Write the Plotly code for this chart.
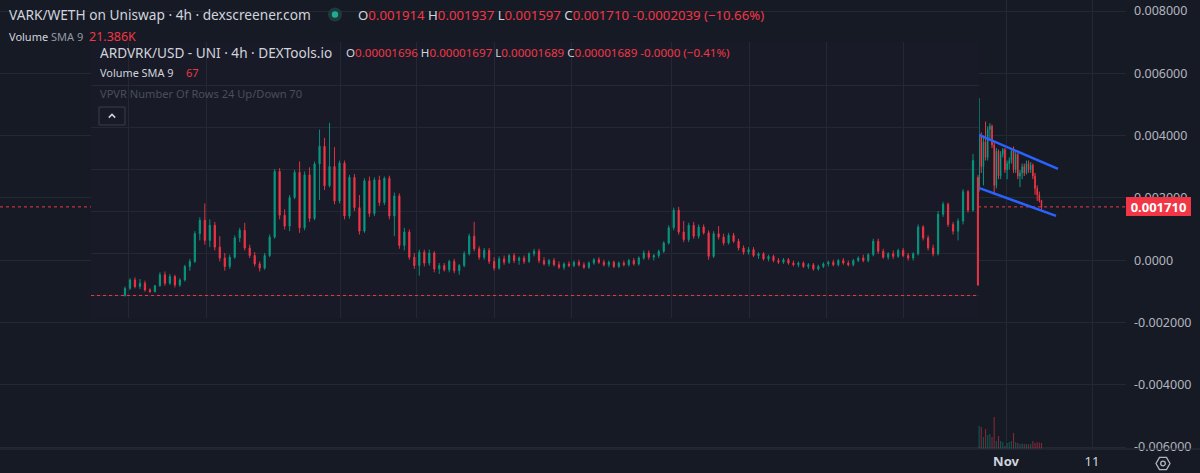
import numpy as np
import pandas as pd
import plotly.graph_objects as go

# ======================= DATA =======================
# Inner overlay chart: ARDVRK/USD (DEXTools, 4h), prices in micro-USD (1e-6 USD)
ard_open = [16.9,18.6,20.6,19.0,19.8,18.2,17.8,19.2,21.8,19.8,
            21.4,19.4,20.6,23.8,25.0,31.6,34.8,30.0,33.6,28.4,
            25.8,23.8,26.0,30.6,32.4,28.2,26.4,24.4,23.4,26.4,
            30.8,46.4,36.0,33.4,40.2,46.2,33.0,45.6,35.2,48.2,
            52.4,43.0,47.6,39.4,48.4,35.8,45.0,37.8,32.2,44.2,
            36.4,44.4,39.0,44.8,35.8,40.6,28.8,32.0,26.0,24.0,
            27.2,24.6,27.0,23.2,24.0,23.0,25.0,22.8,24.0,26.8,
            31.0,28.0,26.0,27.6,25.0,23.4,25.6,24.8,26.4,25.2,
            25.8,25.0,26.8,27.4,25.2,24.4,25.2,24.2,23.6,24.4,
            24.0,24.8,24.2,23.6,24.6,25.4,24.8,24.2,24.8,23.8,
            24.6,24.2,25.2,24.4,25.8,27.0,26.0,26.4,27.4,29.4,
            33.0,37.2,32.0,30.2,33.6,31.0,33.2,31.8,26.2,31.6,
            30.8,29.4,31.2,29.8,28.2,27.2,27.8,26.4,26.8,25.6,
            26.2,25.2,24.8,25.4,24.6,24.2,24.6,23.8,24.2,23.2,
            23.8,24.4,24.8,24.2,25.2,24.6,24.2,25.2,25.8,25.2,
            26.6,29.8,27.4,26.0,26.8,26.2,27.6,26.4,25.8,26.8,
            33.2,30.6,28.2,26.8,36.2,38.6,33.8,32.2,34.6,41.6,
            37.2,45.0]
ard_high = [19.0,21.0,21.2,20.8,20.4,18.6,19.4,22.4,22.6,22.0,
            21.8,21.0,24.2,25.6,32.2,35.5,38.8,35.0,34.4,31.0,
            27.0,26.6,31.2,33.0,34.2,29.0,27.2,25.0,27.0,31.4,
            47.0,47.2,37.4,40.8,46.8,48.8,46.4,47.4,48.8,56.4,
            54.4,58.0,52.2,49.0,49.0,45.6,45.8,40.8,44.8,45.2,
            45.0,45.4,45.2,45.4,41.4,41.2,33.0,32.6,27.0,27.8,
            27.8,27.8,27.4,24.6,24.6,25.4,25.6,24.4,27.4,31.6,
            34.4,28.6,28.2,28.2,26.0,26.2,26.4,26.8,27.0,26.2,
            26.4,27.2,28.0,28.0,26.0,25.6,25.8,25.0,24.8,25.0,
            25.2,25.4,24.8,25.0,25.8,26.0,25.4,25.2,25.2,25.0,
            25.2,25.6,25.8,26.2,27.6,27.6,26.8,27.8,29.8,33.6,
            37.8,38.0,34.6,34.2,34.4,33.8,33.8,32.4,32.2,33.4,
            31.6,31.8,31.8,30.4,28.8,28.4,28.4,27.2,27.2,26.6,
            26.6,25.8,25.8,25.8,25.2,25.0,25.0,24.6,24.6,24.2,
            24.8,25.2,25.4,25.6,25.8,25.2,25.6,26.2,26.6,27.0,
            30.4,30.4,28.0,27.2,27.6,28.0,28.2,27.0,27.2,33.8,
            33.6,31.2,29.0,37.0,39.2,39.0,34.4,35.2,42.2,42.0,
            50.6,45.6]
ard_low = [16.6,18.2,18.6,18.4,17.8,17.5,17.6,19.0,19.2,19.4,
           18.8,18.9,20.2,22.8,24.6,30.0,29.0,28.4,27.6,25.0,
           22.8,23.2,25.6,29.6,27.6,25.8,23.8,22.6,23.0,26.0,
           30.4,35.0,32.6,32.2,39.8,31.8,32.4,34.4,34.8,39.6,
           42.0,42.6,38.6,38.8,35.0,35.2,37.0,31.4,31.8,35.6,
           35.8,38.2,38.4,35.0,31.0,28.0,27.6,25.4,23.2,21.6,
           23.8,24.0,22.4,22.0,22.6,22.4,22.2,21.8,23.6,26.4,
           27.4,25.4,25.4,24.4,22.8,23.0,24.2,24.4,24.6,24.2,
           24.4,24.6,26.2,24.6,24.0,23.8,23.8,23.2,23.0,23.6,
           23.6,23.8,23.2,23.2,24.2,24.4,23.8,23.6,23.4,23.4,
           23.8,23.8,24.0,24.0,25.4,25.4,25.2,25.8,27.0,29.0,
           32.4,31.4,29.6,29.6,30.4,30.4,31.4,25.4,25.8,30.2,
           28.8,29.0,29.4,27.6,26.6,26.6,26.0,25.6,25.2,25.0,
           24.8,24.4,24.4,24.2,23.8,23.6,23.4,23.2,22.8,22.8,
           23.4,23.8,23.8,23.8,24.2,23.8,23.8,24.8,24.8,24.8,
           26.2,26.8,25.6,25.4,25.6,25.8,26.0,25.2,25.2,26.4,
           30.0,27.6,26.2,26.4,35.6,33.2,31.4,30.0,33.8,36.6,
           36.8,19.2]
ard_close = [18.6,20.6,19.0,19.8,18.2,17.8,19.2,21.8,19.8,21.4,
             19.4,20.6,23.8,25.0,31.6,34.8,30.0,33.6,28.4,25.8,
             23.8,26.0,30.6,32.4,28.2,26.4,24.4,23.4,26.4,30.8,
             46.4,36.0,33.4,40.2,46.2,33.0,45.6,35.2,48.2,52.4,
             43.0,47.6,39.4,48.4,35.8,45.0,37.8,32.2,44.2,36.4,
             44.4,39.0,44.8,35.8,40.6,28.8,32.0,26.0,24.0,27.2,
             24.6,27.0,23.2,24.0,23.0,25.0,22.8,24.0,26.8,31.0,
             28.0,26.0,27.6,25.0,23.4,25.6,24.8,26.4,25.2,25.8,
             25.0,26.8,27.4,25.2,24.4,25.2,24.2,23.6,24.4,24.0,
             24.8,24.2,23.6,24.6,25.4,24.8,24.2,24.8,23.8,24.6,
             24.2,25.2,24.4,25.8,27.0,26.0,26.4,27.4,29.4,33.0,
             37.2,32.0,30.2,33.6,31.0,33.2,31.8,26.2,31.6,30.8,
             29.4,31.2,29.8,28.2,27.2,27.8,26.4,26.8,25.6,26.2,
             25.2,24.8,25.4,24.6,24.2,24.6,23.8,24.2,23.2,23.8,
             24.4,24.8,24.2,25.2,24.6,24.2,25.2,25.8,25.2,26.6,
             29.8,27.4,26.0,26.8,26.2,27.6,26.4,25.8,26.8,33.2,
             30.6,28.2,26.8,36.2,38.6,33.8,32.2,34.6,41.6,37.2,
             49.0,19.4]
ard_last_close = 16.89                      # 0.00001689 USD
ard_grid_bars = [0.8, 16.4, 43.1, 58.5, 74.1, 89.6, 109.6, 125.1, 140.7, 156.1]

# Outer chart: VARK/WETH (dexscreener), prices in 1e-3 WETH, volume in K
vark_start = "2023-10-28 21:00"
vark_open_e3 = [2.3,4.0,3.0,3.8,3.3,4.2,4.3,3.7,2.4,3.5,
                2.7,3.4,3.55,2.9,3.1,3.2,3.5,2.9,3.4,2.7,
                2.8,3.0,2.8,3.1,2.9,3.05,2.7,2.3,2.1,1.914]
vark_high_e3 = [5.2,4.1,4.0,4.45,4.3,4.4,4.35,3.8,3.6,3.55,
                3.5,3.6,3.6,3.2,3.3,3.6,3.65,3.5,3.45,2.9,
                3.1,3.1,3.2,3.2,3.15,3.1,2.8,2.4,2.2,1.937]
vark_low_e3 = [2.2,2.8,2.4,3.2,3.2,3.9,3.6,2.1,2.3,2.6,
               2.6,3.3,2.8,2.6,2.9,3.1,2.8,2.8,2.6,2.35,
               2.6,2.7,2.75,2.8,2.8,2.6,2.1,1.9,1.85,1.597]
vark_close_e3 = [4.0,3.0,3.8,3.3,4.2,4.3,3.7,2.4,3.5,2.7,
                 3.4,3.55,2.9,3.1,3.2,3.5,2.9,3.4,2.7,2.8,
                 3.0,2.8,3.1,2.9,3.05,2.7,2.3,2.1,1.914,1.710]
vark_volume_k = [230,220,120,200,140,150,120,320,80,130,
                 80,70,30,60,70,80,160,70,60,50,
                 55,50,50,45,50,80,60,70,65,60]
vark_last = 0.001710

channel_upper_t = ["2023-10-28 20:00", "2023-11-07 01:00"]
channel_upper_p = [0.00402, 0.00293]
channel_lower_t = ["2023-10-28 20:00", "2023-11-06 19:30"]
channel_lower_p = [0.00232, 0.00142]

y_ticks = [0.008, 0.006, 0.004, 0.002, 0.0, -0.002, -0.004, -0.006]
y_tick_text = ["0.008000", "0.006000", "0.004000", "0.002000", "0.0000",
               "-0.002000", "-0.004000", "-0.006000"]
x_tick_dates = ["2023-11-01", "2023-11-11"]
x_tick_text = ["<b>Nov</b>", "11"]

# ======================= STYLE / LAYOUT =======================
W, H = 1200, 473
ML, MR, MT, MB = 0, 74, 0, 24
PW, PH = W - ML - MR, H - MT - MB


def px(x):
    return (x - ML) / PW


def py(y):
    return (H - MB - y) / PH


BG = "#161a25"
PANEL = "#181b27"
GRID = "#242833"
TXT = "#d1d4dc"
RED = "#f23645"
GREEN = "#089981"
FONT = "Noto Sans"

vark_t = pd.date_range(vark_start, periods=len(vark_open_e3), freq="6h")
vo = np.array(vark_open_e3) * 1e-3
vh = np.array(vark_high_e3) * 1e-3
vl = np.array(vark_low_e3) * 1e-3
vc = np.array(vark_close_e3) * 1e-3
vol_colors = ["rgba(8,153,129,0.5)" if c >= o else "rgba(242,54,69,0.5)"
              for o, c in zip(vark_open_e3, vark_close_e3)]

fig = go.Figure()
fig.add_trace(go.Bar(x=vark_t, y=vark_volume_k, marker_color=vol_colors,
                     marker_line_width=0, xaxis="x", yaxis="y3", hoverinfo="skip"))
fig.add_trace(go.Candlestick(
    x=vark_t, open=vo, high=vh, low=vl, close=vc, xaxis="x", yaxis="y",
    increasing=dict(line=dict(color=GREEN, width=1), fillcolor=GREEN),
    decreasing=dict(line=dict(color=RED, width=1), fillcolor=RED),
    whiskerwidth=0, hoverinfo="skip"))
for tt, pp in [(channel_upper_t, channel_upper_p), (channel_lower_t, channel_lower_p)]:
    fig.add_trace(go.Scatter(x=pd.to_datetime(tt), y=pp, mode="lines",
                             line=dict(color="#2962ff", width=2.5),
                             xaxis="x", yaxis="y", hoverinfo="skip"))

bars = list(range(len(ard_open)))
fig.add_trace(go.Candlestick(
    x=bars, open=ard_open, high=ard_high, low=ard_low, close=ard_close,
    xaxis="x2", yaxis="y2",
    increasing=dict(line=dict(color=GREEN, width=0.9), fillcolor=GREEN),
    decreasing=dict(line=dict(color=RED, width=0.9), fillcolor=RED),
    whiskerwidth=0, hoverinfo="skip"))

# axis ranges (pixel calibration of the screenshot)
nov1 = pd.Timestamp("2023-11-01")
ppd = 8.6
x_range = [nov1 - pd.Timedelta(days=1006 / ppd), nov1 + pd.Timedelta(days=(PW - 1006) / ppd)]
y_per_px = 0.014 / 436.0
y_range = [-0.006 - 2 * y_per_px, 0.008 + 11 * y_per_px]

bar_px = (978 - 125) / (len(ard_open) - 1)
x2_range = [(91 - 125) / bar_px, (979 - 125) / bar_px]
u_px = 4.2
y2_range = [17 - (318 - 295) / u_px, 17 + (295 - 42) / u_px]

fig.update_layout(
    width=W, height=H, autosize=False,
    margin=dict(l=ML, r=MR, t=MT, b=MB, pad=0),
    paper_bgcolor=BG, plot_bgcolor=BG,
    showlegend=False, hovermode=False,
    bargap=0.5, boxgap=0.65, boxgroupgap=0.3,
    font=dict(family=FONT, color=TXT),
    xaxis=dict(domain=[0, 1], type="date", range=x_range, tickvals=pd.to_datetime(x_tick_dates),
               ticktext=x_tick_text, showgrid=True, gridcolor=GRID, gridwidth=1,
               zeroline=False, showline=False, ticks="", ticklabelstandoff=3,
               tickfont=dict(size=13, color=TXT),
               rangeslider=dict(visible=False), anchor="y", fixedrange=True),
    yaxis=dict(domain=[0, 1], side="right", range=y_range, tickvals=y_ticks, ticktext=y_tick_text,
               showgrid=True, gridcolor=GRID, gridwidth=1, zeroline=False, showline=False,
               ticks="", ticklabelstandoff=7, tickfont=dict(size=12.5, color="#b2b5be"),
               anchor="x", fixedrange=True),
    yaxis3=dict(overlaying="y", range=[0, PH * 10], visible=False, anchor="x"),
    xaxis2=dict(domain=[px(91), px(979)], range=x2_range, tickvals=ard_grid_bars,
                showticklabels=False, showgrid=True, gridcolor=GRID, gridwidth=1,
                zeroline=False, showline=False, ticks="", anchor="y2",
                rangeslider=dict(visible=False), fixedrange=True),
    yaxis2=dict(domain=[py(318), py(42)], range=y2_range, tick0=17, dtick=10,
                showticklabels=False, showgrid=True, gridcolor=GRID, gridwidth=1,
                zeroline=False, showline=False, ticks="", anchor="x2", fixedrange=True),
)

shapes = []
# outer last-price line (under the overlay panel)
shapes.append(dict(type="line", xref="x domain", yref="y", x0=0, x1=1, y0=vark_last, y1=vark_last,
                   line=dict(color=RED, width=1, dash="dot"), layer="below"))
# overlay panel background
shapes.append(dict(type="rect", xref="x2", yref="y2", x0=x2_range[0], x1=x2_range[1],
                   y0=y2_range[0], y1=y2_range[1], fillcolor=PANEL, line=dict(width=0),
                   layer="below"))
# inner last price line
shapes.append(dict(type="line", xref="x2", yref="y2", x0=x2_range[0], x1=x2_range[1],
                   y0=ard_last_close, y1=ard_last_close,
                   line=dict(color=RED, width=1, dash="dot"), layer="above"))
# bottom separator
shapes.append(dict(type="line", xref="paper", yref="paper", x0=0, x1=px(W), y0=py(449), y1=py(449),
                   line=dict(color="#2a2e39", width=1), layer="above"))
# status dot
shapes.append(dict(type="circle", xref="paper", yref="paper", x0=px(328), x1=px(342),
                   y0=py(21.5), y1=py(7.5), fillcolor="#1d3b3b", line=dict(width=0), layer="above"))
shapes.append(dict(type="circle", xref="paper", yref="paper", x0=px(331.8), x1=px(338.2),
                   y0=py(17.7), y1=py(11.3), fillcolor="#22ab94", line=dict(width=0), layer="above"))
# collapse button
shapes.append(dict(type="rect", xref="paper", yref="paper", x0=px(99), x1=px(125),
                   y0=py(125), y1=py(107), line=dict(color="#3a3e4a", width=1), layer="above"))
chev = [(108.8, 117.6), (112, 114.4), (115.2, 117.6)]
shapes.append(dict(type="path", xref="paper", yref="paper",
                   path="M " + " L ".join(f"{px(a)},{py(b)}" for a, b in chev),
                   line=dict(color=TXT, width=1.5), layer="above"))
# settings icon (hexagon + circle)
cx, cy, r = 1163, 463.5, 7
hexpts = [(cx + r * np.cos(np.pi / 3 * i), cy + r * np.sin(np.pi / 3 * i)) for i in range(6)]
shapes.append(dict(type="path", xref="paper", yref="paper",
                   path="M " + " L ".join(f"{px(a)},{py(b)}" for a, b in hexpts) + " Z",
                   line=dict(color="#b2b5be", width=1.3), layer="above"))
shapes.append(dict(type="circle", xref="paper", yref="paper", x0=px(cx - 2.3), x1=px(cx + 2.3),
                   y0=py(cy + 2.3), y1=py(cy - 2.3), line=dict(color="#b2b5be", width=1.3),
                   layer="above"))
fig.update_layout(shapes=shapes)


def ann(x, y, text, size=12.5, color=TXT, **kw):
    d = dict(xref="paper", yref="paper", x=px(x), y=py(y), text=text, showarrow=False,
             xanchor="left", yanchor="middle", font=dict(family=FONT, size=size, color=color))
    d.update(kw)
    return d


def red(s):
    return f"<span style='color:{RED}'>{s}</span>"


def ohlc(o, h, l, c, ch):
    return ("O" + red(o) + " H" + red(h) + " L" + red(l) + " C" + red(c) + " " + red(ch))


anns = [
    ann(7, 15, "VARK/WETH on Uniswap · 4h · dexscreener.com", size=13.7),
    ann(356, 15, ohlc("0.001914", "0.001937", "0.001597", "0.001710", "-0.0002039 (−10.66%)"), size=13.2),
    ann(7, 36, "Volume <span style='color:#9598a1'>SMA 9</span>", size=11),
    ann(87, 36, "21.386K", size=12.5, color=RED),
    ann(98, 52, "ARDVRK/USD - UNI · 4h · DEXTools.io", size=13.6),
    ann(344, 52, ohlc("0.00001696", "0.00001697", "0.00001689", "0.00001689", "-0.0000 (−0.41%)"), size=11.6),
    ann(98, 72, "Volume SMA 9", size=10.9),
    ann(184, 72, "67", size=11, color=RED),
    ann(98, 94, "VPVR Number Of Rows 24 Up/Down 70", size=11.1, color="#4a4e5a"),
    dict(xref="paper", yref="y", x=1.0, y=vark_last, text="<b>0.001710</b>", showarrow=False,
         xanchor="left", yanchor="middle", bgcolor=RED, borderpad=0, borderwidth=0,
         width=65, height=19, align="center", font=dict(family=FONT, size=13, color="#ffffff")),
]
fig.update_layout(annotations=anns)

fig.write_html("out.html")
